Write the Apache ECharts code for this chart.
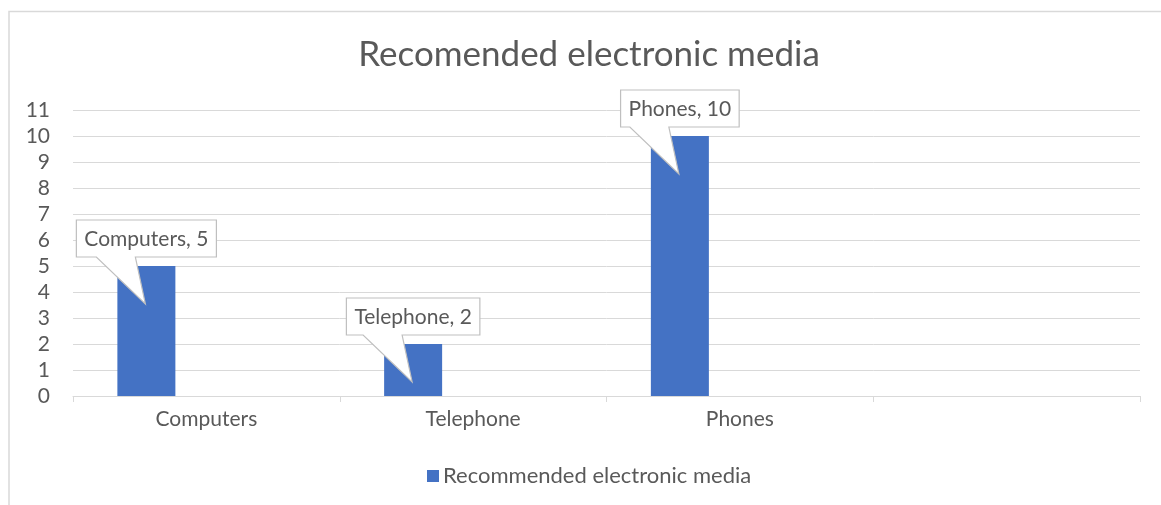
<!DOCTYPE html>
<html>
<head>
<meta charset="utf-8">
<script src="https://cdn.jsdelivr.net/npm/echarts@6/dist/echarts.min.js"></script>
<style>
  html, body { margin: 0; padding: 0; background: #fff; }
  #chart { width: 1161px; height: 505px; }
</style>
</head>
<body>
<div id="chart"></div>
<script>
// Chart data
const titleText = 'Recomended electronic media';
const seriesName = 'Recommended electronic media';
const categories = ['Computers', 'Telephone', 'Phones', ''];
const values = [5, 2, 10, null];
const yMax = 11;
const yInterval = 1;

// Styling
const FONT = 'Lato, "Open Sans", sans-serif';
const TEXT_COLOR = '#595959';
const GRID_COLOR = '#D9D9D9';
const BAR_COLOR = '#4472C4';
const BAR_W = 58;
const BAR_GAP = 62;           // pixel gap to the (empty) companion series slot
const LABEL_SIZE = 21;

// Horizontal offset of the visible bar from its category centre
const BAR_OFFSET = -(2 * BAR_W + BAR_GAP) / 2 + BAR_W / 2;

const measureCtx = document.createElement('canvas').getContext('2d');
function textWidth(str, size) {
  measureCtx.font = size + 'px ' + FONT;
  return measureCtx.measureText(str).width;
}

// Callout data: one entry per bar that has a value
const calloutData = values
  .map((v, i) => (v == null ? null : [i, v]))
  .filter(d => d !== null);

function renderCallout(params, api) {
  const idx = api.value(0);
  const val = api.value(1);
  const top = api.coord([idx, val]);
  const cx = top[0] + BAR_OFFSET;
  const y0 = top[1];
  const text = categories[idx] + ', ' + val;
  const w = textWidth(text, LABEL_SIZE) + 16;
  const boxBottom = y0 - 9;
  const boxTop = boxBottom - 37;
  const left = cx - w / 2;
  const right = cx + w / 2;
  const points = [
    [left, boxTop], [right, boxTop], [right, boxBottom],
    [cx - 11, boxBottom], [cx - 1, y0 + 38], [cx - 50, boxBottom],
    [left, boxBottom]
  ];
  return {
    type: 'group',
    children: [
      {
        type: 'polygon',
        shape: { points: points },
        style: { fill: '#FFFFFF', stroke: '#BFBFBF', lineWidth: 1.2 }
      },
      {
        type: 'text',
        x: cx,
        y: (boxTop + boxBottom) / 2 + 1,
        style: {
          text: text,
          fill: TEXT_COLOR,
          font: LABEL_SIZE + 'px ' + FONT,
          align: 'center',
          verticalAlign: 'middle'
        }
      }
    ]
  };
}

const chart = echarts.init(document.getElementById('chart'), null, { renderer: 'canvas' });

chart.setOption({
  backgroundColor: '#FFFFFF',
  animation: false,
  title: {
    text: titleText,
    left: 584,
    top: 32,
    textAlign: 'center',
    textStyle: { fontFamily: FONT, fontSize: 35, fontWeight: 'normal', color: TEXT_COLOR }
  },
  legend: {
    data: [seriesName],
    left: 422,
    top: 460,
    icon: 'rect',
    itemWidth: 12,
    itemHeight: 12,
    itemGap: 6,
    textStyle: { fontFamily: FONT, fontSize: 22, color: TEXT_COLOR, padding: [0, 0, 0, -1] }
  },
  graphic: [
    {
      type: 'rect',
      shape: { x: 9, y: 11.5, width: 1300, height: 700 },
      style: { fill: 'transparent', stroke: '#D9D9D9', lineWidth: 1.5 },
      silent: true,
      z: -10
    }
  ],
  grid: { left: 73, right: 21, top: 110, height: 286, containLabel: false },
  xAxis: {
    type: 'category',
    data: categories,
    axisLine: { lineStyle: { color: GRID_COLOR, width: 1 } },
    axisTick: { show: true, length: 6, lineStyle: { color: GRID_COLOR } },
    axisLabel: { color: TEXT_COLOR, fontFamily: FONT, fontSize: LABEL_SIZE, margin: 13 }
  },
  yAxis: {
    type: 'value',
    min: 0,
    max: yMax,
    interval: yInterval,
    axisLine: { show: false },
    axisTick: { show: false },
    axisLabel: { color: TEXT_COLOR, fontFamily: FONT, fontSize: LABEL_SIZE, margin: 23 },
    splitLine: { lineStyle: { color: GRID_COLOR, width: 1 } }
  },
  series: [
    {
      name: seriesName,
      type: 'bar',
      data: values,
      barWidth: BAR_W,
      barGap: (BAR_GAP / BAR_W * 100) + '%',
      itemStyle: { color: BAR_COLOR },
      z: 2
    },
    {
      name: 'spacer',
      type: 'bar',
      data: values.map(() => null),
      barWidth: BAR_W,
      itemStyle: { color: 'transparent' }
    },
    {
      name: 'callouts',
      type: 'custom',
      data: calloutData,
      renderItem: renderCallout,
      clip: false,
      silent: true,
      z: 5
    }
  ]
});
</script>
</body>
</html>
